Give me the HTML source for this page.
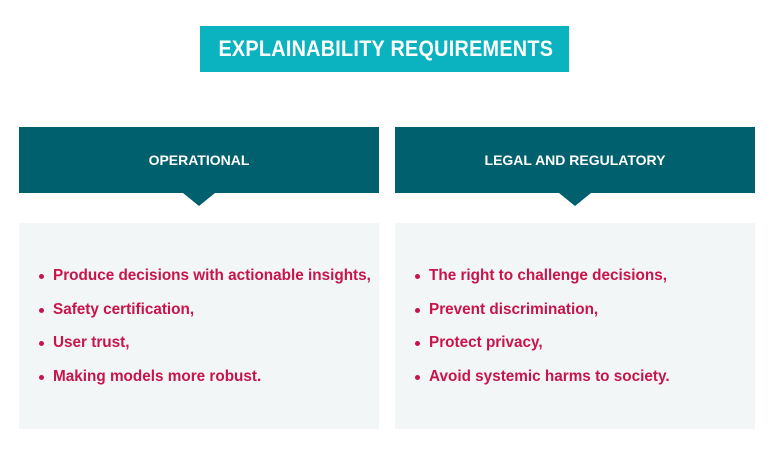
<!DOCTYPE html>
<html><head><style>
body{margin:0;width:770px;height:455px;background:#fff;position:relative;font-family:"Liberation Sans",sans-serif;font-weight:bold;overflow:hidden}
.t{position:absolute;left:200px;top:26px;width:369px;height:46px;background:#0ab3bf}
.t span{position:absolute;left:0;width:369px;top:0;color:#fff;font-size:22px;text-align:center;line-height:46px;white-space:nowrap;transform:scaleX(0.9);transform-origin:center;letter-spacing:0.3px}
.h{position:absolute;top:127px;width:360px;height:66px;background:#00606e;color:#fff;font-size:14px;text-align:center;line-height:66px}
.h:after{content:"";position:absolute;left:164px;bottom:-13px;border-left:16px solid transparent;border-right:16px solid transparent;border-top:13px solid #00606e}
.c{position:absolute;top:223px;width:360px;height:206px;background:#f2f6f7}
ul{margin:0;padding:0;list-style:none;position:absolute;left:20px;top:41px}
li{color:#c8144a;font-size:15.3px;height:33.5px;line-height:24px;position:relative;padding-left:14px;white-space:nowrap}
li:before{content:"";position:absolute;left:0;top:10px;width:5px;height:5px;border-radius:50%;background:#c8144a}
</style></head><body>
<div class="t"><span>EXPLAINABILITY REQUIREMENTS</span></div>
<div class="h" style="left:19px">OPERATIONAL</div>
<div class="h" style="left:395px">LEGAL AND REGULATORY</div>
<div class="c" style="left:19px"><ul>
<li>Produce decisions with actionable insights,</li>
<li>Safety certification,</li>
<li>User trust,</li>
<li>Making models more robust.</li></ul></div>
<div class="c" style="left:395px"><ul>
<li>The right to challenge decisions,</li>
<li>Prevent discrimination,</li>
<li>Protect privacy,</li>
<li>Avoid systemic harms to society.</li></ul></div>
</body></html>
